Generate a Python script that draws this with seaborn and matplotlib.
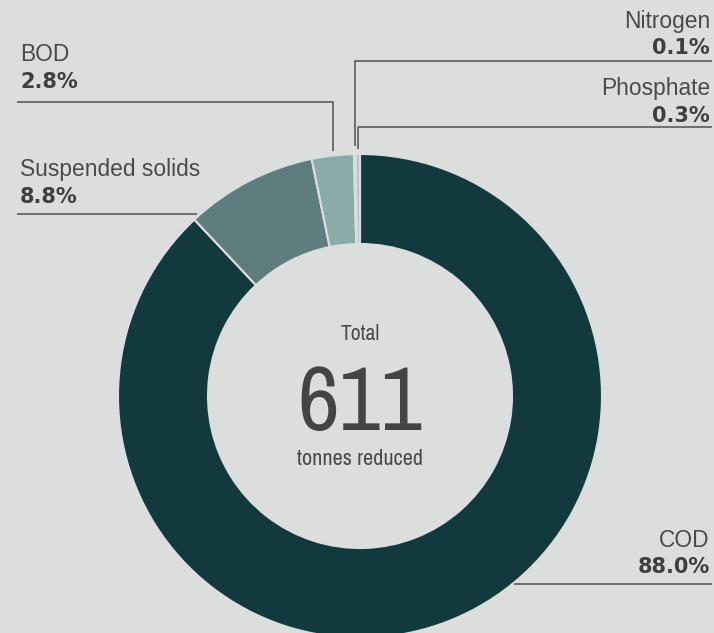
import numpy as np
import matplotlib
matplotlib.use("Agg")
import matplotlib.pyplot as plt
from matplotlib import font_manager as fm
import seaborn as sns

# ---- data ----
categories = ["COD", "Suspended solids", "BOD", "Nitrogen", "Phosphate"]
shares = [88.0, 8.8, 2.8, 0.1, 0.3]
pct_labels = ["88.0%", "8.8%", "2.8%", "0.1%", "0.3%"]
total_tonnes = "611"
center_top = "Total"
center_bottom = "tonnes reduced"
colors = ["#12393e", "#5f7c7e", "#89aca9", "#c3d0ce", "#b5c7c4"]

BG = "#dcdedd"
TXT = "#4a4a4a"
PCT = "#3f3f3f"
LINE = "#5a5a5a"

sns.set_theme(style="white")
plt.rcParams["font.family"] = ["Liberation Sans", "DejaVu Sans"]

# look for an upright, regular-weight condensed face for the centre texts
def is_regular(f):
    return f.style == "normal" and f.weight in (400, "normal", "regular")

cands = [f for f in fm.fontManager.ttflist
         if is_regular(f) and ("Narrow" in f.name or "Condensed" in f.name
                               or str(f.stretch) in ("condensed", "semi-condensed"))
         and "Italic" not in f.fname and "Oblique" not in f.fname]
# prefer Liberation Sans Narrow, then anything else
cands.sort(key=lambda f: (0 if "Liberation" in f.name else 1, f.name))
cond = cands[0] if cands else None

W, H = 714, 633
fig = plt.figure(figsize=(W / 100, H / 100), dpi=100, facecolor=BG)
ax = fig.add_axes([0, 0, 1, 1])
ax.set_facecolor(BG)

def py(y):
    return H - y

cx, cy, R, ring = 360, py(396), 242, 90
wedges, _ = ax.pie(shares, colors=colors, startangle=90, counterclock=False,
                   center=(cx, cy), radius=R,
                   wedgeprops=dict(width=ring, edgecolor=BG, linewidth=1.5))
ax.set_xlim(0, W)
ax.set_ylim(0, H)
ax.set_aspect("equal", adjustable="box")
ax.axis("off")

# mid angles (clockwise from top)
cum = np.cumsum([0] + shares[:-1])
mids = {c: np.deg2rad(360 * (s0 + v / 2) / 100) for c, s0, v in zip(categories, cum, shares)}

def edge_x(theta):
    return cx + R * np.sin(theta)

def circle_x(ypix, side):
    dy = py(ypix) - cy
    dx = np.sqrt(max(R ** 2 - dy ** 2, 0))
    return cx + side * dx

lkw = dict(color=LINE, lw=1.2, solid_capstyle="butt")
bx = edge_x(mids["BOD"])
ax.plot([17, bx, bx], [py(102), py(102), py(151)], **lkw)
nx = edge_x(mids["Nitrogen"])
ax.plot([712, nx, nx], [py(61), py(61), py(146)], **lkw)
phx = edge_x(mids["Phosphate"])
ax.plot([712, phx, phx], [py(127), py(127), py(149)], **lkw)
ax.plot([17, circle_x(214, -1) - 4], [py(214), py(214)], **lkw)
ax.plot([circle_x(584, 1) + 2, 712], [py(584), py(584)], **lkw)

name_kw = dict(fontsize=16.4, color=TXT, va="baseline")
pct_kw = dict(fontsize=15, color=PCT, va="baseline", fontweight="bold",
              family=["DejaVu Sans"])

label_pos = {
    "BOD": (20, 61, 88, "left"),
    "Suspended solids": (20, 176, 203, "left"),
    "Nitrogen": (710, 28, 54, "right"),
    "Phosphate": (710, 95, 122, "right"),
    "COD": (710, 547, 573, "right"),
}
for c, p in zip(categories, pct_labels):
    x, yn, yp, ha = label_pos[c]
    ax.text(x, py(yn), c, ha=ha, **name_kw)
    ax.text(x, py(yp), p, ha=ha, **pct_kw)

if cond is not None:
    ckw = dict(fontproperties=fm.FontProperties(fname=cond.fname))
    sizes = (15.5, 66, 16)
else:
    ckw = dict(family=["Liberation Sans", "DejaVu Sans"])
    sizes = (14, 58, 14)

def ctext(y, s, size, color):
    t = ax.text(cx, py(y), s, ha="center", va="baseline", color=color, **ckw)
    t.set_fontsize(size)

ctext(340, center_top, sizes[0], TXT)
ctext(430, total_tonnes, sizes[1], "#444444")
ctext(465, center_bottom, sizes[2], TXT)

fig.savefig("out.png", dpi=100, facecolor=BG)
